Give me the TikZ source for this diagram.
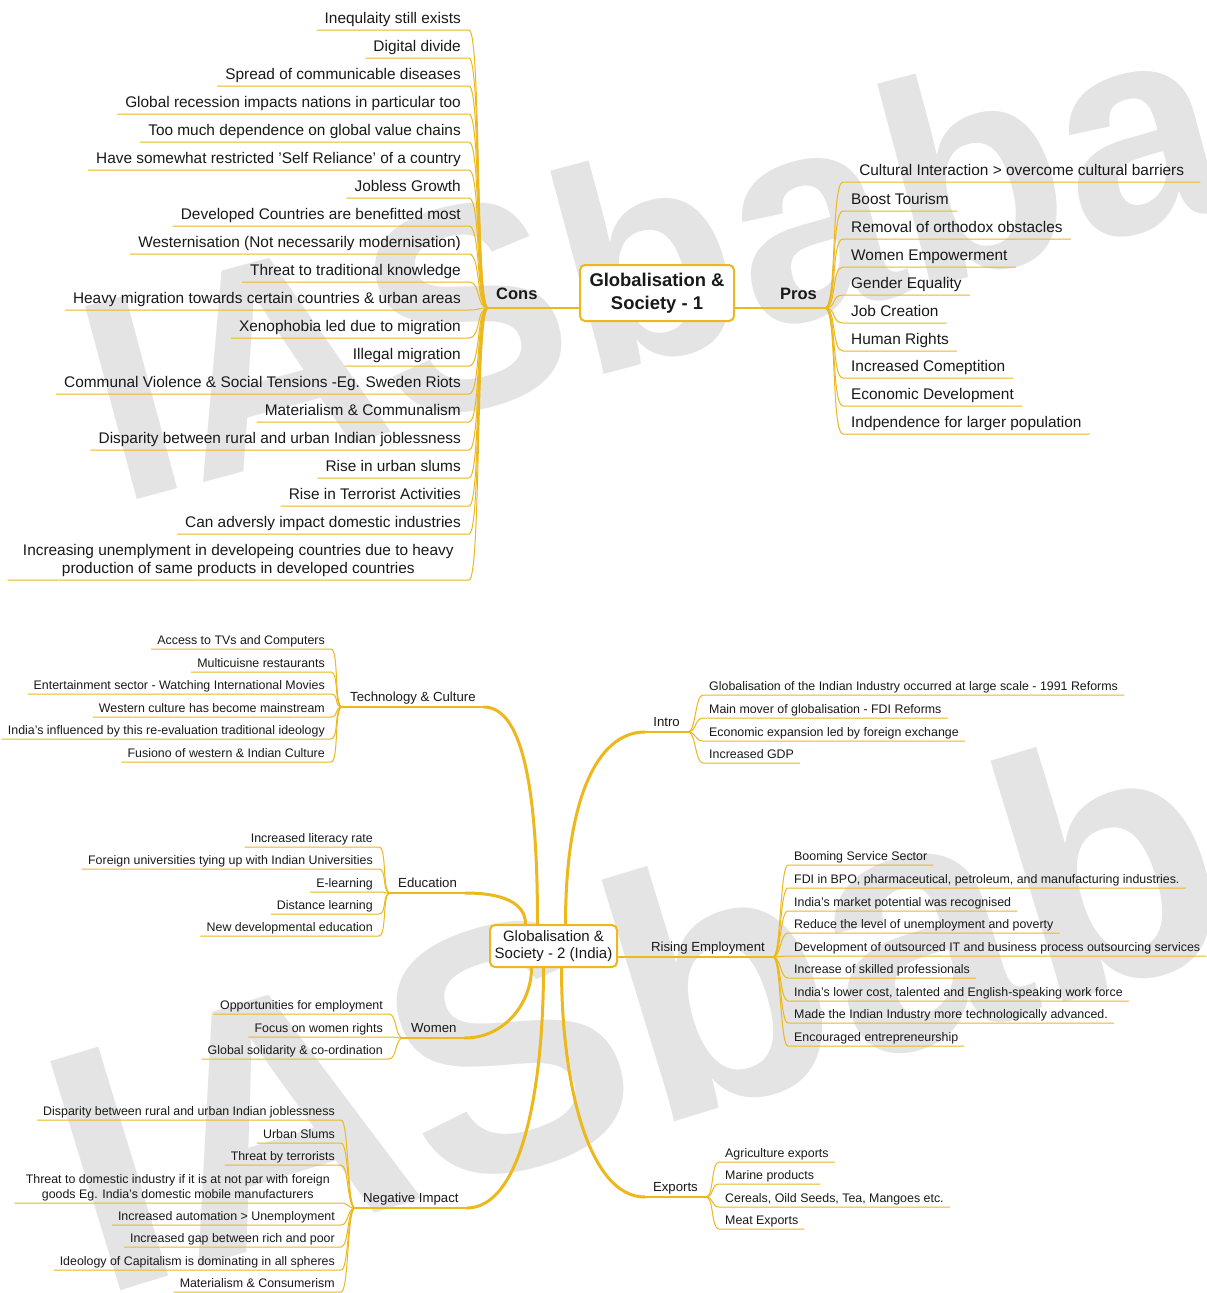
\documentclass[tikz,border=0pt]{standalone}
\usepackage{fontspec}
\setmainfont{Liberation Sans}
\usepackage{tikz}
\usetikzlibrary{positioning, calc}

\definecolor{gold}{RGB}{236,184,28}
\definecolor{ink}{RGB}{25,25,25}
\definecolor{wmgray}{RGB}{228,228,228}

\begin{document}
\begin{tikzpicture}[x=1pt, y=-1pt,
    % central topics - rounded gold boxes
    topic/.style={
        rectangle, draw=gold, line width=2pt, rounded corners=5pt,
        fill=white, align=center, text=ink
    },
    % Cons / Pros labels
    headbranch/.style={
        inner xsep=8pt, inner ysep=4pt, text depth=4.5pt, text=ink,
        font=\bfseries\fontsize{16.5}{19}\selectfont
    },
    % main branch labels of the lower map
    branch/.style={
        inner xsep=8pt, inner ysep=2pt, text depth=3pt, text=ink,
        font=\fontsize{13.2}{16}\selectfont
    },
    % items of the upper map
    bigleaf/.style={
        inner xsep=8pt, inner ysep=2.5pt, text depth=3.5pt, text=ink,
        font=\fontsize{15.4}{18}\selectfont, align=center
    },
    % items of the lower map
    leaf/.style={
        inner xsep=6pt, inner ysep=1.5pt, text depth=2.5pt, text=ink,
        font=\fontsize{12.4}{15}\selectfont, align=center
    },
    twig/.style={draw=gold, line width=1pt},
    limb/.style={draw=gold, line width=3pt, line cap=round},
    watermark/.style={
        text=wmgray, inner sep=0pt, anchor=base west,
        font=\bfseries\fontsize{290}{290}\selectfont
    },
]

\useasboundingbox (0,0) rectangle (1207,1293);
\clip (0,0) rectangle (1207,1293);
\fill[white] (0,0) rectangle (1207,1293);

% Watermarks
\node[watermark, rotate=15] (wm1) at (118,505) {IASbaba};
\node[watermark, rotate=17, scale=1.2] (wm2) at (98,1298) {IASbaba};

% ---------------- Upper map ----------------
\node[topic, minimum width=154pt, minimum height=56pt,
      font=\bfseries\fontsize{18.4}{23}\selectfont] (soc1) at (657,293) {Globalisation \&\\Society - 1};

\node[headbranch, anchor=south west] (cons) at (488,308) {Cons};
\node[headbranch, anchor=south east] (pros) at (825,308) {Pros};
\draw[twig, line width=1.4pt] (cons.south west) -- (cons.south west -| soc1.west);
\draw[twig, line width=1.4pt] (soc1.east |- pros.south) -- (pros.south east);

% Cons - left column
\node[bigleaf, anchor=south east] (c1) at (469,30) {Inequlaity still exists};
\node[bigleaf, anchor=south east] (c2) at (469,58) {Digital divide};
\node[bigleaf, anchor=south east] (c3) at (469,86) {Spread of communicable diseases};
\node[bigleaf, anchor=south east] (c4) at (469,114) {Global recession impacts nations in particular too};
\node[bigleaf, anchor=south east] (c5) at (469,142) {Too much dependence on global value chains};
\node[bigleaf, anchor=south east] (c6) at (469,170) {Have somewhat restricted 'Self Reliance' of a country};
\node[bigleaf, anchor=south east] (c7) at (469,198) {Jobless Growth};
\node[bigleaf, anchor=south east] (c8) at (469,226) {Developed Countries are benefitted most};
\node[bigleaf, anchor=south east] (c9) at (469,254) {Westernisation (Not necessarily modernisation)};
\node[bigleaf, anchor=south east] (c10) at (469,282) {Threat to traditional knowledge};
\node[bigleaf, anchor=south east] (c11) at (469,310) {Heavy migration towards certain countries \& urban areas};
\node[bigleaf, anchor=south east] (c12) at (469,338) {Xenophobia led due to migration};
\node[bigleaf, anchor=south east] (c13) at (469,366) {Illegal migration};
\node[bigleaf, anchor=south east] (c14) at (469,394) {Communal Violence \& Social Tensions -Eg. Sweden Riots};
\node[bigleaf, anchor=south east] (c15) at (469,422) {Materialism \& Communalism};
\node[bigleaf, anchor=south east] (c16) at (469,450) {Disparity between rural and urban Indian joblessness};
\node[bigleaf, anchor=south east] (c17) at (469,478) {Rise in urban slums};
\node[bigleaf, anchor=south east] (c18) at (469,506) {Rise in Terrorist Activities};
\node[bigleaf, anchor=south east] (c19) at (469,534) {Can adversly impact domestic industries};
\node[bigleaf, anchor=south east, minimum width=461pt] (c20) at (469,580)
    {Increasing unemplyment in developeing countries due to heavy\\production of same products in developed countries};

\foreach \n in {c1,c2,c3,c4,c5,c6,c7,c8,c9,c10,c11,c12,c13,c14,c15,c16,c17,c18,c19,c20}
    \draw[twig] (cons.south west) .. controls +(-12,0) and +(12,0) .. (\n.south east) -- (\n.south west);

% Pros - right column
\node[bigleaf, anchor=south west, minimum width=357pt] (p1) at (843,182) {Cultural Interaction > overcome cultural barriers};
\node[bigleaf, anchor=south west] (p2) at (843,211) {Boost Tourism};
\node[bigleaf, anchor=south west] (p3) at (843,239) {Removal of orthodox obstacles};
\node[bigleaf, anchor=south west] (p4) at (843,267) {Women Empowerment};
\node[bigleaf, anchor=south west] (p5) at (843,295) {Gender Equality};
\node[bigleaf, anchor=south west] (p6) at (843,323) {Job Creation};
\node[bigleaf, anchor=south west] (p7) at (843,351) {Human Rights};
\node[bigleaf, anchor=south west] (p8) at (843,378) {Increased Comeptition};
\node[bigleaf, anchor=south west] (p9) at (843,406) {Economic Development};
\node[bigleaf, anchor=south west] (p10) at (843,434) {Indpendence for larger population};

\foreach \n in {p1,p2,p3,p4,p5,p6,p7,p8,p9,p10}
    \draw[twig] (pros.south east) .. controls +(12,0) and +(-12,0) .. (\n.south west) -- (\n.south east);

% ---------------- Lower map ----------------
\node[topic, minimum width=127pt, minimum height=42pt,
      font=\fontsize{15}{17}\selectfont] (soc2) at (553.5,946) {Globalisation \&\\Society - 2 (India)};

% main branches
\node[branch, anchor=south west] (tech) at (342,707) {Technology \& Culture};
\node[branch, anchor=south west] (edu) at (390,893) {Education};
\node[branch, anchor=south west] (women) at (403,1038) {Women};
\node[branch, anchor=south west] (neg) at (355,1208) {Negative Impact};
\node[branch, anchor=south east] (intro) at (688,732) {Intro};
\node[branch, anchor=south east] (rising) at (773,957) {Rising Employment};
\node[branch, anchor=south east] (exports) at (706,1197) {Exports};

\draw[twig, line width=1.4pt] (tech.south west) -- (tech.south east);
\draw[twig, line width=1.4pt] (edu.south west) -- (edu.south east);
\draw[twig, line width=1.4pt] (women.south west) -- (women.south east);
\draw[twig, line width=1.4pt] (neg.south west) -- (neg.south east);
\draw[twig, line width=1.4pt] (intro.south west) -- (intro.south east);
\draw[twig, line width=1.4pt] (exports.south west) -- (exports.south east);
\draw[twig, line width=1.4pt] (soc2.east |- rising.south) -- (rising.south east);

\draw[limb] (tech.south east) .. controls +(42,0) and +(0,-120) .. ($(soc2.north)+(-16,0)$);
\draw[limb] (edu.south east) .. controls +(40,0) and +(0,-20) .. ($(soc2.north)+(-28,0)$);
\draw[limb] (intro.south west) .. controls +(-50,0) and +(0,-120) .. ($(soc2.north)+(12,0)$);
\draw[limb] (women.south east) .. controls +(40,0) and +(0,35) .. ($(soc2.south)+(-22,0)$);
\draw[limb] (neg.south east) .. controls +(55,0) and +(0,120) .. ($(soc2.south)+(-10,0)$);
\draw[limb] (exports.south west) .. controls +(-55,0) and +(0,120) .. ($(soc2.south)+(8,0)$);

% Technology & Culture
\node[leaf, anchor=south east] (t1) at (331,649) {Access to TVs and Computers};
\node[leaf, anchor=south east] (t2) at (331,672) {Multicuisne restaurants};
\node[leaf, anchor=south east] (t3) at (331,694) {Entertainment sector - Watching International Movies};
\node[leaf, anchor=south east] (t4) at (331,717) {Western culture has become mainstream};
\node[leaf, anchor=south east] (t5) at (331,739) {India's influenced by this re-evaluation traditional ideology};
\node[leaf, anchor=south east] (t6) at (331,762) {Fusiono of western \& Indian Culture};

\foreach \n in {t1,t2,t3,t4,t5,t6}
    \draw[twig] (tech.south west) .. controls +(-8,0) and +(8,0) .. (\n.south east) -- (\n.south west);

% Education
\node[leaf, anchor=south east] (e1) at (379,847) {Increased literacy rate};
\node[leaf, anchor=south east] (e2) at (379,869) {Foreign universities tying up with Indian Universities};
\node[leaf, anchor=south east] (e3) at (379,892) {E-learning};
\node[leaf, anchor=south east] (e4) at (379,914) {Distance learning};
\node[leaf, anchor=south east] (e5) at (379,936) {New developmental education};

\foreach \n in {e1,e2,e3,e4,e5}
    \draw[twig] (edu.south west) .. controls +(-8,0) and +(8,0) .. (\n.south east) -- (\n.south west);

% Women
\node[leaf, anchor=south east] (w1) at (389,1014) {Opportunities for employment};
\node[leaf, anchor=south east] (w2) at (389,1037) {Focus on women rights};
\node[leaf, anchor=south east] (w3) at (389,1059) {Global solidarity \& co-ordination};

\foreach \n in {w1,w2,w3}
    \draw[twig] (women.south west) .. controls +(-8,0) and +(8,0) .. (\n.south east) -- (\n.south west);

% Negative Impact
\node[leaf, anchor=south east] (n1) at (341,1120) {Disparity between rural and urban Indian joblessness};
\node[leaf, anchor=south east] (n2) at (341,1143) {Urban Slums};
\node[leaf, anchor=south east] (n3) at (341,1165) {Threat by terrorists};
\node[leaf, anchor=south east, minimum width=326pt] (n4) at (341,1203)
    {Threat to domestic industry if it is at not par with foreign\\goods Eg. India's domestic mobile manufacturers};
\node[leaf, anchor=south east] (n5) at (341,1225) {Increased automation > Unemployment};
\node[leaf, anchor=south east] (n6) at (341,1247) {Increased gap between rich and poor};
\node[leaf, anchor=south east] (n7) at (341,1270) {Ideology of Capitalism is dominating in all spheres};
\node[leaf, anchor=south east] (n8) at (341,1292) {Materialism \& Consumerism};

\foreach \n in {n1,n2,n3,n4,n5,n6,n7,n8}
    \draw[twig] (neg.south west) .. controls +(-8,0) and +(8,0) .. (\n.south east) -- (\n.south west);

% Intro
\node[leaf, anchor=south west] (i1) at (703,695) {Globalisation of the Indian Industry occurred at large scale - 1991 Reforms};
\node[leaf, anchor=south west] (i2) at (703,718) {Main mover of globalisation - FDI Reforms};
\node[leaf, anchor=south west] (i3) at (703,741) {Economic expansion led by foreign exchange};
\node[leaf, anchor=south west] (i4) at (703,763) {Increased GDP};

\foreach \n in {i1,i2,i3,i4}
    \draw[twig] (intro.south east) .. controls +(8,0) and +(-8,0) .. (\n.south west) -- (\n.south east);

% Rising Employment
\node[leaf, anchor=south west] (r1) at (788,865) {Booming Service Sector};
\node[leaf, anchor=south west] (r2) at (788,888) {FDI in BPO, pharmaceutical, petroleum, and manufacturing industries.};
\node[leaf, anchor=south west] (r3) at (788,911) {India's market potential was recognised};
\node[leaf, anchor=south west] (r4) at (788,933) {Reduce the level of unemployment and poverty};
\node[leaf, anchor=south west] (r5) at (788,956) {Development of outsourced IT and business process outsourcing services};
\node[leaf, anchor=south west] (r6) at (788,978) {Increase of skilled professionals};
\node[leaf, anchor=south west] (r7) at (788,1001) {India's lower cost, talented and English-speaking work force};
\node[leaf, anchor=south west] (r8) at (788,1023) {Made the Indian Industry more technologically advanced.};
\node[leaf, anchor=south west] (r9) at (788,1046) {Encouraged entrepreneurship};

\foreach \n in {r1,r2,r3,r4,r5,r6,r7,r8,r9}
    \draw[twig] (rising.south east) .. controls +(8,0) and +(-8,0) .. (\n.south west) -- (\n.south east);

% Exports
\node[leaf, anchor=south west] (x1) at (719,1162) {Agriculture exports};
\node[leaf, anchor=south west] (x2) at (719,1184) {Marine products};
\node[leaf, anchor=south west] (x3) at (719,1207) {Cereals, Oild Seeds, Tea, Mangoes etc.};
\node[leaf, anchor=south west] (x4) at (719,1229) {Meat Exports};

\foreach \n in {x1,x2,x3,x4}
    \draw[twig] (exports.south east) .. controls +(8,0) and +(-8,0) .. (\n.south west) -- (\n.south east);

\end{tikzpicture}
\end{document}
